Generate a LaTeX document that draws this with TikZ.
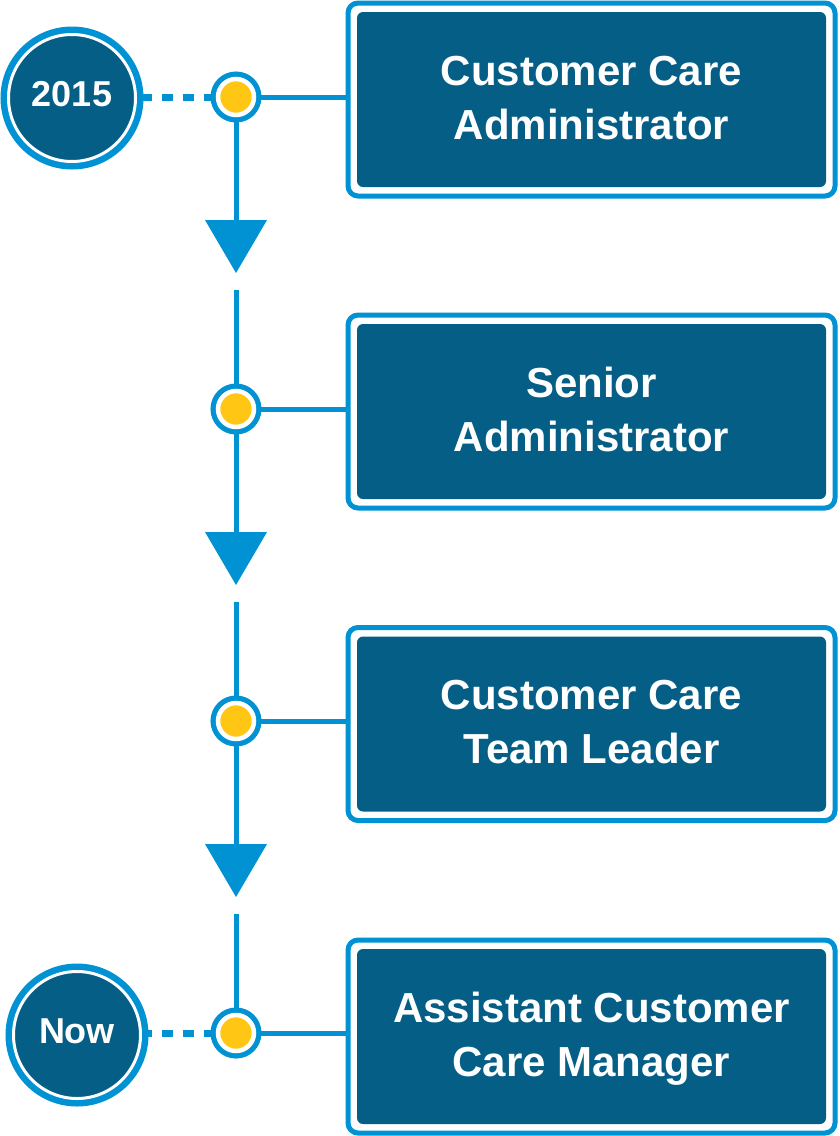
\documentclass[tikz,border=0pt]{standalone}
\usepackage{fontspec}
\setmainfont{Liberation Sans}
\usetikzlibrary{arrows.meta,backgrounds}
\definecolor{lineblue}{RGB}{0,146,210}
\definecolor{boxblue}{RGB}{4,94,133}
\definecolor{dotyellow}{RGB}{255,199,20}

\begin{document}
\begin{tikzpicture}[x=1pt,y=1pt,
	role/.style={rectangle, fill=boxblue, rounded corners=6pt, minimum width=469pt, minimum height=175pt,
		inner sep=0pt, outer sep=0pt, text=white, align=center,
		font=\bfseries\fontsize{42}{54}\selectfont, text height=84pt, text depth=5pt},
	roleframe/.style={draw=lineblue, line width=5pt, rounded corners=10pt},
	stopdot/.style={circle, minimum size=36pt, inner sep=0pt, fill=dotyellow, draw=white, line width=4.5pt,
		preaction={draw=lineblue, line width=15pt}},
	year/.style={circle, minimum size=127pt, inner sep=0pt, fill=boxblue, draw=white, line width=3pt,
		preaction={draw=lineblue, line width=16pt}, text=white,
		font=\bfseries\fontsize{36}{40}\selectfont, text depth=7.5pt},
	link/.style={draw=lineblue, line width=5pt},
	dashlink/.style={draw=lineblue, line width=7pt, dash pattern=on 10.5pt off 10.5pt, dash phase=20.5pt},
	downlink/.style={link, -{Triangle[width=62pt, length=53pt, line width=0pt]}}]
				\useasboundingbox (0,0) rectangle (839,-1136);
				\node[year] (y1) at (72,-98) {2015};
				\node[year] (y2) at (77,-1035) {Now};
				\node[stopdot] (d1) at (236,-97) {};
				\node[stopdot] (d2) at (236,-409) {};
				\node[stopdot] (d3) at (236,-721) {};
				\node[stopdot] (d4) at (236,-1033) {};
				\node[role] (r1) at (591.5,-99.5) {Customer Care\\Administrator};
				\node[role] (r2) at (591.5,-411.5) {Senior\\Administrator};
				\node[role] (r3) at (591.5,-724) {Customer Care\\Team Leader};
				\node[role] (r4) at (591.5,-1036.5) {Assistant Customer\\Care Manager};
				\foreach \r in {r1,r2,r3,r4}
					\draw[roleframe] ([shift={(-9,9)}]\r.north west) rectangle ([shift={(9,-9)}]\r.south east);
				\coordinate (t1) at (236,-273);
				\coordinate (s1) at (236,-290);
				\coordinate (t2) at (236,-585);
				\coordinate (s2) at (236,-602);
				\coordinate (t3) at (236,-897);
				\coordinate (s3) at (236,-914);
				\begin{scope}[on background layer]
					\fill[white] (0,0) rectangle (839,-1136);
					\draw[dashlink] (d1.center) -- (d1.center -| y1.center);
					\draw[dashlink] (d4.center) -- (d4.center -| y2.center);
					\foreach \d/\r in {d1/r1,d2/r2,d3/r3,d4/r4}
						\draw[link, shorten >=9pt] (\d.center) -- (\d.center -| \r.west);
					\draw[downlink] (d1.center) -- (t1);
					\draw[link] (s1) -- (d2.center);
					\draw[downlink] (d2.center) -- (t2);
					\draw[link] (s2) -- (d3.center);
					\draw[downlink] (d3.center) -- (t3);
					\draw[link] (s3) -- (d4.center);
				\end{scope}
\end{tikzpicture}
\end{document}
